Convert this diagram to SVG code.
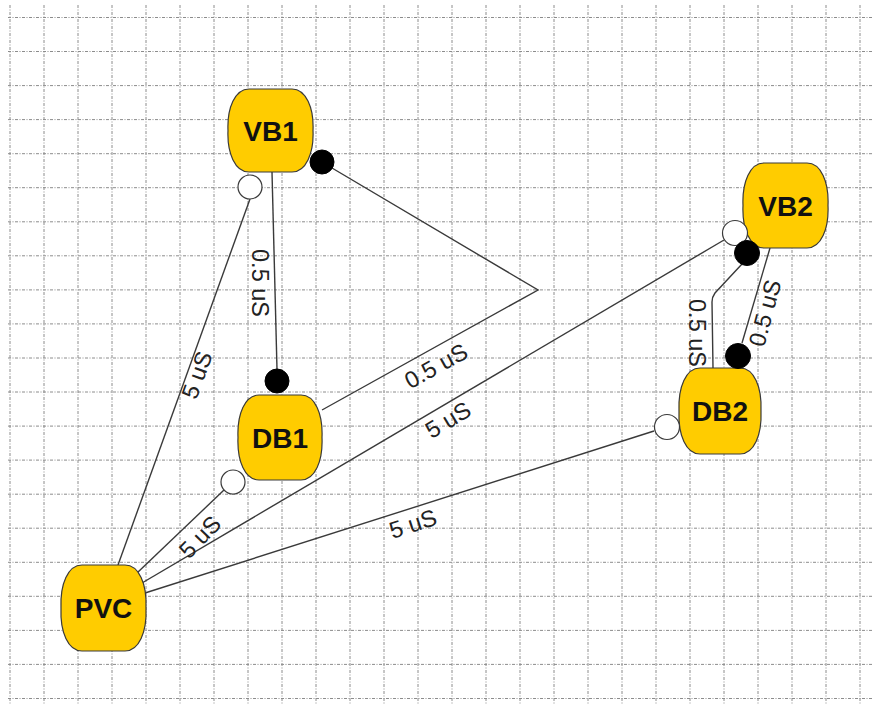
<svg xmlns="http://www.w3.org/2000/svg" width="875" height="705" viewBox="0 0 875 705">
<style>
.grid{fill:none;stroke:#8c8c8c;stroke-width:1;stroke-dasharray:3 1.5 1 1.5}
.node path{fill:#FFCC00;stroke:#3a3a3a;stroke-width:1.2}
.node text{font-family:"Liberation Sans",Arial,sans-serif;font-weight:bold;font-size:28px;fill:#111;text-anchor:middle;dominant-baseline:central}
.edge{fill:none;stroke:#3a3a3a;stroke-width:1.4}
.lbl{font-family:"Liberation Sans",Arial,sans-serif;font-size:23.5px;fill:#222;text-anchor:middle;dominant-baseline:central}
.dotb{fill:#000;stroke:#000;stroke-width:1}
.dotw{fill:#fff;stroke:#3a3a3a;stroke-width:1.2}
</style>
<rect width="875" height="705" fill="#fff"/>
<g id="grid">
<path class="grid" d="M10 5V705M44 5V705M78 5V705M112 5V705M146 5V705M180 5V705M214 5V705M248 5V705M282 5V705M316 5V705M350 5V705M384 5V705M418 5V705M452 5V705M486 5V705M520 5V705M554 5V705M588 5V705M622 5V705M656 5V705M690 5V705M724 5V705M758 5V705M792 5V705M826 5V705M860 5V705"/>
<path class="grid" d="M8 17.5H872M8 51.5H872M8 85.6H872M8 119.6H872M8 153.7H872M8 187.7H872M8 221.8H872M8 255.8H872M8 289.9H872M8 323.9H872M8 358H872M8 392H872M8 426.1H872M8 460.1H872M8 494.2H872M8 528.2H872M8 562.3H872M8 596.3H872M8 630.4H872M8 664.4H872M8 698.5H872"/>
</g>
<g id="connectors">
<path class="edge" d="M272 172L277 369"/>
<path class="edge" d="M332 168L538 290L322 410"/>
<path class="edge" d="M250 199L118 565"/>
<path class="edge" d="M224 490L137 573"/>
<path class="edge" d="M724 240L142 583"/>
<path class="edge" d="M654 431L145 593"/>
<path class="edge" d="M742 264L715 293Q712 297 712 302L713 368"/>
<path class="edge" d="M770 248L742 343"/>
<text class="lbl" transform="translate(260 283) rotate(90)">0.5 uS</text>
<text class="lbl" transform="translate(197 375) rotate(-70)">5 uS</text>
<text class="lbl" transform="translate(436 366) rotate(-29)">0.5 uS</text>
<text class="lbl" transform="translate(448 420) rotate(-31)">5 uS</text>
<text class="lbl" transform="translate(200 537) rotate(-46)">5 uS</text>
<text class="lbl" transform="translate(413 524) rotate(-18)">5 uS</text>
<text class="lbl" transform="translate(697 333) rotate(90)">0.5 uS</text>
<text class="lbl" transform="translate(765 313) rotate(-75)">0.5 uS</text>
</g>
<g id="VB1" class="node">
<path d="M249 89H292C306 89 314 108 313 130.5C314 153 306 172 292 172H249C235 172 227 153 228 130.5C227 108 235 89 249 89Z"/>
<text x="270.5" y="131">VB1</text>
</g>
<g id="VB2" class="node">
<path d="M764 163H807C821 163 829 182 828 205.5C829 229 821 248 807 248H764C750 248 742 229 743 205.5C742 182 750 163 764 163Z"/>
<text x="785.5" y="206">VB2</text>
</g>
<g id="DB1" class="node">
<path d="M259 395H301C315 395 323 414 322 437.5C323 461 315 480 301 480H259C245 480 237 461 238 437.5C237 414 245 395 259 395Z"/>
<text x="280" y="438">DB1</text>
</g>
<g id="DB2" class="node">
<path d="M700 368H740C754 368 762 387 761 411C762 435 754 454 740 454H700C686 454 678 435 679 411C678 387 686 368 700 368Z"/>
<text x="720" y="411">DB2</text>
</g>
<g id="PVC" class="node">
<path d="M82 565H125C139 565 147 584 146 608C147 632 139 651 125 651H82C68 651 60 632 61 608C60 584 68 565 82 565Z"/>
<text x="103.5" y="608">PVC</text>
</g>
<g id="ends">
<circle class="dotb" cx="277" cy="381" r="12"/>
<circle class="dotb" cx="322" cy="162" r="12"/>
<circle class="dotw" cx="250" cy="187" r="12"/>
<circle class="dotw" cx="233" cy="482" r="12"/>
<circle class="dotw" cx="735" cy="233" r="12.5"/>
<circle class="dotb" cx="747" cy="253" r="12.5"/>
<circle class="dotb" cx="738" cy="356" r="12.5"/>
<circle class="dotw" cx="667" cy="427" r="12.5"/>
</g>
</svg>
